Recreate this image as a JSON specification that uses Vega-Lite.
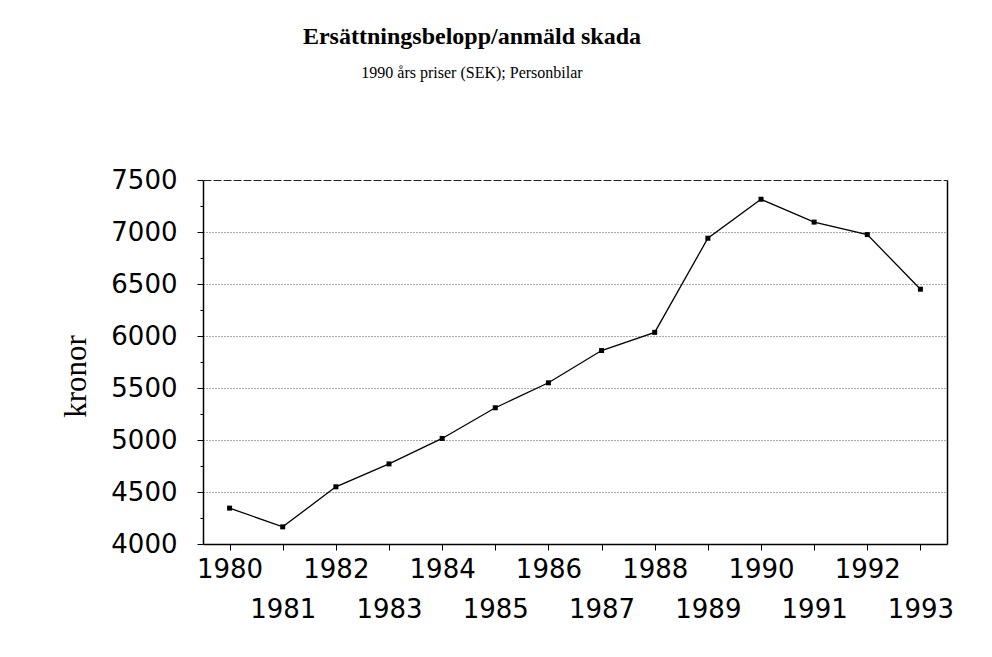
{
  "$schema": "https://vega.github.io/schema/vega-lite/v6.json",
  "autosize": "none",
  "width": 744,
  "height": 364,
  "padding": {"left": 203, "top": 180, "right": 45, "bottom": 113},
  "background": "white",
  "title": {
    "text": "Ersättningsbelopp/anmäld skada",
    "subtitle": "1990 års priser (SEK); Personbilar",
    "anchor": "middle",
    "dx": -103,
    "offset": 86,
    "font": "Liberation Serif",
    "fontSize": 24,
    "fontWeight": "bold",
    "color": "#000",
    "subtitleFont": "Liberation Serif",
    "subtitleFontSize": 16,
    "subtitleColor": "#000",
    "subtitlePadding": 16
  },
  "data": {
    "values": [
      {"year": 1980, "kronor": 4345},
      {"year": 1981, "kronor": 4165},
      {"year": 1982, "kronor": 4550},
      {"year": 1983, "kronor": 4770},
      {"year": 1984, "kronor": 5015},
      {"year": 1985, "kronor": 5310},
      {"year": 1986, "kronor": 5550},
      {"year": 1987, "kronor": 5860},
      {"year": 1988, "kronor": 6035},
      {"year": 1989, "kronor": 6940},
      {"year": 1990, "kronor": 7315},
      {"year": 1991, "kronor": 7095},
      {"year": 1992, "kronor": 6975},
      {"year": 1993, "kronor": 6450}
    ]
  },
  "config": {
    "view": {"stroke": null},
    "axis": {
      "domainColor": "#000",
      "domainWidth": 1.5,
      "tickColor": "#000",
      "labelColor": "#000",
      "titleColor": "#000"
    }
  },
  "resolve": {"axis": {"y": "independent"}},
  "layer": [
    {
      "mark": {"type": "line", "color": "#000", "strokeWidth": 1.3},
      "encoding": {
        "x": {
          "field": "year",
          "type": "quantitative",
          "scale": {"domain": [1979.5, 1993.5], "nice": false, "zero": false},
          "axis": {
            "values": [1980, 1981, 1982, 1983, 1984, 1985, 1986, 1987, 1988, 1989, 1990, 1991, 1992, 1993],
            "format": "d",
            "title": null,
            "grid": false,
            "tickSize": 6,
            "labelFont": "DejaVu Sans",
            "labelFontSize": 26,
            "labelBaseline": "top",
            "labelFlush": false,
            "labelOverlap": false,
            "labelPadding": {"condition": {"test": "datum.value % 2 == 1", "value": 46}, "value": 6}
          }
        },
        "y": {
          "field": "kronor",
          "type": "quantitative",
          "scale": {"domain": [4000, 7500], "nice": false, "zero": false},
          "axis": {
            "values": [4000, 4250, 4500, 4750, 5000, 5250, 5500, 5750, 6000, 6250, 6500, 6750, 7000, 7250, 7500],
            "labelExpr": "datum.value % 500 == 0 ? datum.label : ''",
            "format": "d",
            "title": "kronor",
            "titleFont": "Liberation Serif",
            "titleFontSize": 31,
            "titleFontWeight": "normal",
            "titlePadding": 18,
            "titleY": 196,
            "labelFont": "DejaVu Sans",
            "labelFontSize": 26,
            "labelPadding": 20,
            "labelOverlap": false,
            "labelFlush": false,
            "tickSize": {"condition": {"test": "datum.value % 500 == 0", "value": 6}, "value": 3},
            "grid": true,
            "gridColor": {"condition": {"test": "datum.value == 7500", "value": "#222"}, "value": "#555"},
            "gridOpacity": {"condition": {"test": "datum.value % 500 == 0 && datum.value > 4000", "value": 1}, "value": 0},
            "gridDash": {"condition": {"test": "datum.value == 7500", "value": [8, 2]}, "value": [1, 2]},
            "gridWidth": 1
          }
        }
      }
    },
    {
      "mark": {"type": "point", "shape": "square", "filled": true, "color": "#000", "size": 25, "opacity": 1},
      "encoding": {
        "x": {"field": "year", "type": "quantitative"},
        "y": {
          "field": "kronor",
          "type": "quantitative",
          "axis": {
            "orient": "right",
            "title": null,
            "labels": false,
            "ticks": false,
            "grid": false,
            "domain": true,
            "domainColor": "#000",
            "domainWidth": 1.5
          }
        }
      }
    }
  ]
}
